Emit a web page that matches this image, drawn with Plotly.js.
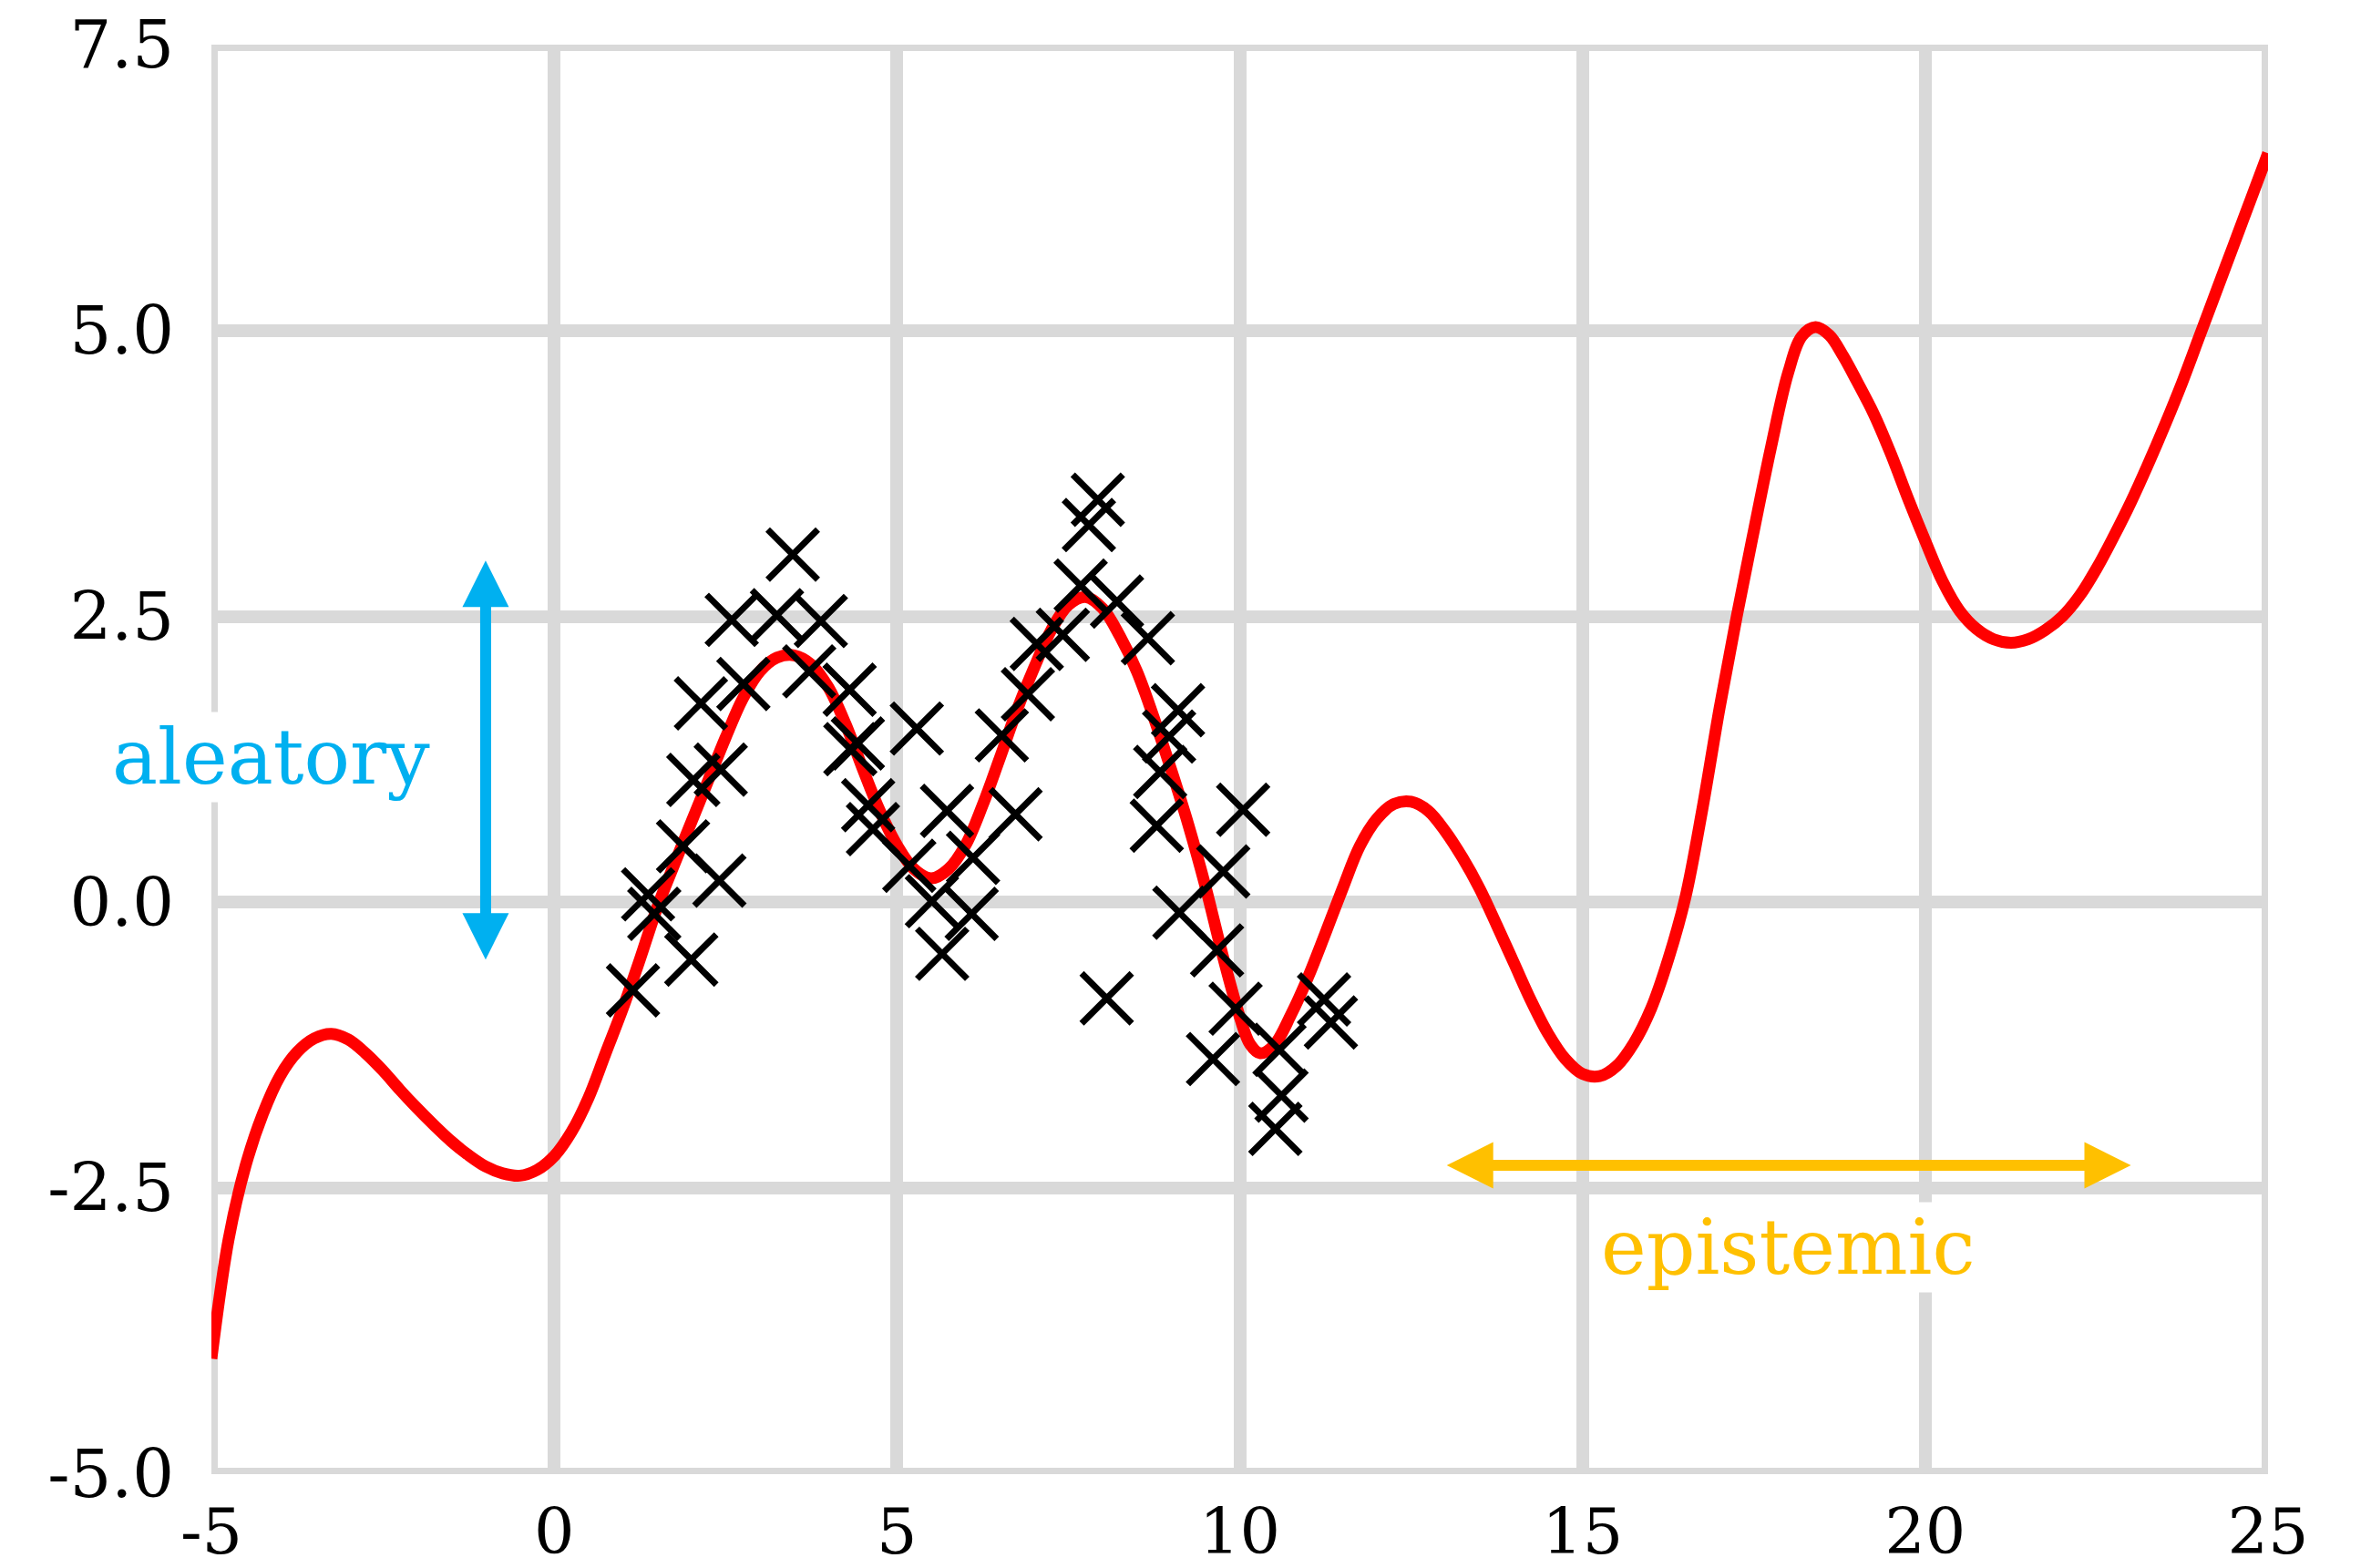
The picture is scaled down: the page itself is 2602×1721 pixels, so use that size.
<!DOCTYPE html>
<html>
<head>
<meta charset="utf-8">
<script src="https://cdn.plot.ly/plotly-3.0.1.min.js"></script>
<style>
html, body { margin: 0; padding: 0; background: #ffffff; }
#chart { width: 2602px; height: 1721px; }
</style>
</head>
<body>
<div id="chart"></div>
<script>
// ---- data ----
const curveX = [-5, -4.75, -4.5, -4.25, -4, -3.75, -3.5, -3.25, -3, -2.75, -2.5, -2.25, -2, -1.75, -1.5, -1.25, -1, -0.75, -0.5, -0.25,
  0, 0.25, 0.5, 0.75, 1, 1.25, 1.5, 1.75, 2, 2.25, 2.5, 2.75, 3, 3.25, 3.5, 3.75, 4, 4.25, 4.5, 4.75,
  5, 5.25, 5.5, 5.75, 6, 6.25, 6.5, 6.75, 7, 7.25, 7.5, 7.75, 8, 8.25, 8.5, 8.75, 9, 9.25, 9.5, 9.75,
  10, 10.15, 10.3, 10.5, 10.75, 11, 11.25, 11.5, 11.75, 12, 12.25, 12.5, 12.75, 13, 13.25, 13.5, 13.75, 14, 14.25, 14.5, 14.75,
  15, 15.25, 15.5, 15.75, 16, 16.25, 16.5, 16.75, 17, 17.25, 17.5, 17.75, 18, 18.2, 18.4, 18.6, 18.8,
  19, 19.25, 19.5, 19.75, 20, 20.25, 20.5, 20.75, 21, 21.25, 21.5, 21.75, 22, 22.25, 22.5, 22.75, 23, 23.25, 23.5, 23.75,
  24, 24.25, 24.5, 24.75, 25];
const curveY = [-3.99, -2.95, -2.30, -1.85, -1.52, -1.31, -1.19, -1.15, -1.20, -1.32, -1.47, -1.64, -1.80, -1.95, -2.09, -2.21, -2.31, -2.37, -2.39, -2.34,
  -2.22, -2.01, -1.71, -1.32, -0.93, -0.50, -0.05, 0.33, 0.70, 1.07, 1.44, 1.78, 2.02, 2.14, 2.16, 2.08, 1.88, 1.56, 1.17, 0.80,
  0.50, 0.29, 0.21, 0.29, 0.50, 0.85, 1.26, 1.68, 2.05, 2.38, 2.60, 2.67, 2.57, 2.33, 2.02, 1.61, 1.16, 0.68, 0.14, -0.46,
  -1.00, -1.24, -1.32, -1.25, -0.98, -0.65, -0.27, 0.12, 0.49, 0.73, 0.86, 0.88, 0.80, 0.62, 0.39, 0.12, -0.20, -0.53, -0.86, -1.15, -1.37,
  -1.50, -1.52, -1.43, -1.23, -0.93, -0.50, 0.04, 0.82, 1.70, 2.50, 3.25, 3.98, 4.63, 4.95, 5.03, 4.96, 4.78,
  4.56, 4.27, 3.92, 3.53, 3.16, 2.81, 2.55, 2.39, 2.30, 2.27, 2.30, 2.38, 2.50, 2.68, 2.92, 3.20, 3.50, 3.83, 4.18, 4.55,
  4.95, 5.35, 5.75, 6.15, 6.55];

const pointsX = [1.15, 1.37, 1.46, 2.00, 1.88, 2.41, 2.03, 2.43, 2.14, 2.76,
  2.59, 3.25, 3.89, 3.48, 3.72, 4.31, 4.32, 4.43, 5.29, 4.58,
  4.65, 5.18, 5.73, 5.51, 6.11, 6.09, 5.66, 6.73, 6.53, 6.91,
  7.04, 7.42, 7.68, 8.21, 8.66, 7.93, 7.80, 8.06, 9.10, 8.97,
  8.84, 8.79, 10.05, 9.76, 9.12, 9.67, 9.94, 9.61, 10.58, 10.61,
  10.52, 11.23, 11.33];
const pointsY = [-0.77, 0.07, -0.10, -0.50, 0.49, 0.19, 1.07, 1.16, 1.74, 1.91,
  2.47, 2.51, 2.46, 3.04, 2.02, 1.86, 1.34, 1.39, 1.52, 0.85,
  0.64, 0.32, 0.80, 0.01, 0.39, -0.10, -0.45, 0.77, 1.46, 1.82,
  2.26, 2.34, 2.77, 2.63, 2.31, 3.52, 3.30, -0.84, 1.68, 1.45,
  1.14, 0.67, 0.81, 0.27, -0.09, -0.42, -0.93, -1.37, -1.29, -1.69,
  -1.98, -0.85, -1.05];

const xTickVals = [-5, 0, 5, 10, 15, 20, 25];
const xTickText = ['-5', '0', '5', '10', '15', '20', '25'];
const yTickVals = [-5, -2.5, 0, 2.5, 5, 7.5];
const yTickText = ['-5.0', '-2.5', '0.0', '2.5', '5.0', '7.5'];
const xRange = [-5, 25];
const yRange = [-5, 7.5];

const annotationLabels = ['aleatory', 'epistemic'];
const aleatorySpan = [-0.5, 3.0];   // y extent of the vertical arrow
const epistemicSpan = [13, 23];     // x extent of the horizontal arrow

// ---- styles ----
const GRID = '#d9d9d9';
const BLUE = '#00b0f0';
const GOLD = '#ffc000';
const FONT = 'DejaVu Serif';

const traces = [
  {
    x: curveX, y: curveY, type: 'scatter', mode: 'lines',
    line: { color: '#ff0000', width: 13, shape: 'spline', smoothing: 1.0 },
    hoverinfo: 'skip'
  },
  {
    x: pointsX, y: pointsY, type: 'scatter', mode: 'markers',
    marker: { symbol: 'x-thin', size: 55, color: '#000000', line: { color: '#000000', width: 7 } },
    hoverinfo: 'skip'
  }
];

const layout = {
  width: 2602, height: 1721,
  margin: { l: 232, r: 113, t: 49, b: 103, pad: 0 },
  paper_bgcolor: '#ffffff', plot_bgcolor: '#ffffff',
  showlegend: false,
  font: { family: FONT, color: '#000000', size: 72 },
  xaxis: {
    range: xRange, tickmode: 'array', tickvals: xTickVals, ticktext: xTickText,
    showgrid: true, gridcolor: GRID, gridwidth: 14, zeroline: false,
    showline: false, ticks: '', ticklabelstandoff: 16, automargin: false,
    tickfont: { family: FONT, size: 70, color: '#000000' }, fixedrange: true
  },
  yaxis: {
    range: yRange, tickmode: 'array', tickvals: yTickVals, ticktext: yTickText,
    showgrid: true, gridcolor: GRID, gridwidth: 14, zeroline: false,
    showline: false, ticks: '', ticklabelstandoff: 40, automargin: false,
    tickfont: { family: FONT, size: 72, color: '#000000' }, fixedrange: true
  },
  shapes: [
    {
      type: 'rect', xref: 'x', yref: 'y',
      x0: xRange[0], x1: xRange[1], y0: yRange[0], y1: yRange[1],
      line: { color: GRID, width: 14 }, fillcolor: 'rgba(0,0,0,0)', layer: 'below'
    }
  ],
  annotations: [
    {
      xref: 'x', yref: 'y', axref: 'x', ayref: 'y',
      x: -1, y: aleatorySpan[0], ax: -1, ay: aleatorySpan[1],
      text: '', showarrow: true, arrowside: 'end+start',
      arrowhead: 2, startarrowhead: 2, arrowsize: 0.85, startarrowsize: 0.85,
      arrowwidth: 12, arrowcolor: BLUE, standoff: 0, startstandoff: 0,
      font: { size: 1 }
    },
    {
      xref: 'x', yref: 'y', axref: 'x', ayref: 'y',
      x: epistemicSpan[1], y: -2.3, ax: epistemicSpan[0], ay: -2.3,
      text: '', showarrow: true, arrowside: 'end+start',
      arrowhead: 2, startarrowhead: 2, arrowsize: 0.85, startarrowsize: 0.85,
      arrowwidth: 12, arrowcolor: GOLD, standoff: 0, startstandoff: 0,
      font: { size: 1 }
    },
    {
      xref: 'x', yref: 'y', x: -4.13, y: 1.27,
      text: annotationLabels[0], showarrow: false,
      font: { family: FONT, size: 84, color: BLUE },
      bgcolor: '#ffffff', borderpad: 0, xanchor: 'center', yanchor: 'middle'
    },
    {
      xref: 'x', yref: 'y', x: 18, y: -3.02,
      text: annotationLabels[1], showarrow: false,
      font: { family: FONT, size: 84, color: GOLD },
      bgcolor: '#ffffff', borderpad: 0, xanchor: 'center', yanchor: 'middle'
    }
  ]
};

Plotly.newPlot('chart', traces, layout, { staticPlot: true, displayModeBar: false });
</script>
</body>
</html>
